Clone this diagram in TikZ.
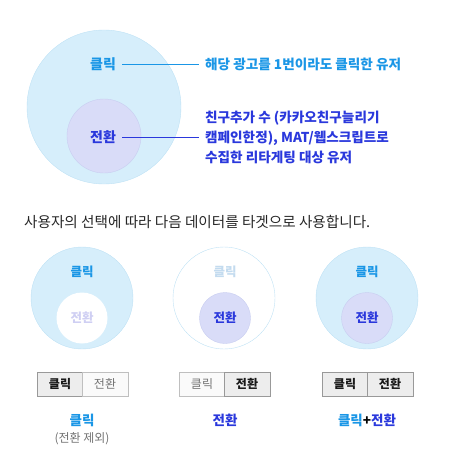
\documentclass[tikz,border=0pt]{standalone}
\usepackage{fontspec}
\setmainfont{Noto Sans CJK KR}
\definecolor{clickblue}{HTML}{1A96E6}
\definecolor{convblue}{HTML}{2A38DC}
\definecolor{outerfill}{HTML}{D6EEFB}
\definecolor{outerline}{HTML}{BFE2F5}
\definecolor{innerfill}{HTML}{D9DCF8}
\definecolor{innerline}{HTML}{C9CEF1}
\definecolor{offclick}{HTML}{C3DBEF}
\definecolor{offconv}{HTML}{CFCFF3}
\tikzset{
  outer/.style={circle, draw=outerline, fill=outerfill, inner sep=0pt},
  inner/.style={circle, draw=innerline, fill=innerfill, inner sep=0pt},
  biglbl/.style={font=\fontsize{14}{16}\selectfont\bfseries, inner sep=6pt},
  smalllbl/.style={font=\fontsize{12.5}{15}\selectfont\bfseries},
  btnon/.style={draw=black!40, fill=black!7, minimum width=46pt, minimum height=24pt,
    font=\fontsize{12}{14}\selectfont\bfseries, text=black!90},
  btnoff/.style={draw=black!25, fill=black!2, minimum width=46pt, minimum height=24pt,
    font=\fontsize{12}{14}\selectfont, text=black!55},
  caption/.style={font=\fontsize{13.5}{16}\selectfont\bfseries}
}
\begin{document}
\begin{tikzpicture}[x=1pt, y=-1pt]
  \useasboundingbox (0,0) rectangle (449,476);
  % top diagram
  \node[outer, minimum size=154pt] (bigclick) at (104,107) {};
  \node[inner, minimum size=74pt] (bigconv) at (104,136) {};
  \node[biglbl, text=clickblue] (clicklbl) at (103,64) {클릭};
  \node[biglbl, text=convblue] (convlbl) at (103,137) {전환};
  \node[anchor=west, inner sep=6pt, text=clickblue, font=\fontsize{13.6}{20}\selectfont\bfseries]
    (clickdesc) at (199,64) {해당 광고를 1번이라도 클릭한 유저};
  \node[anchor=west, inner sep=6pt, align=left, text=convblue, font=\fontsize{13.6}{20}\selectfont\bfseries]
    (convdesc) at (199,137) {친구추가 수 (카카오친구늘리기\\캠페인한정), MAT/웹스크립트로\\수집한 리타게팅 대상 유저};
  \draw[clickblue] (clicklbl.east) -- (clickdesc.west);
  \draw[convblue] (convlbl.east) -- (convdesc.west);

  \node[anchor=west, inner sep=0pt, font=\fontsize{14.6}{17}\selectfont, text=black!85]
    (guide) at (24,222) {사용자의 선택에 따라 다음 데이터를 타겟으로 사용합니다.};

  % three cases
  \node[outer, minimum size=102pt] (c1) at (82,298) {};
  \node[circle, fill=white, minimum size=51pt, inner sep=0pt] (c1in) at (82,318) {};
  \node[smalllbl, text=clickblue] (c1click) at (82,272) {클릭};
  \node[smalllbl, text=offconv] (c1conv) at (82,318) {전환};

  \node[circle, draw=outerline, fill=white, minimum size=102pt, inner sep=0pt] (c2) at (224,298) {};
  \node[inner, minimum size=51pt] (c2in) at (225,318) {};
  \node[smalllbl, text=offclick] (c2click) at (225,272) {클릭};
  \node[smalllbl, text=convblue] (c2conv) at (225,318) {전환};

  \node[outer, minimum size=102pt] (c3) at (367,298) {};
  \node[inner, minimum size=51pt] (c3in) at (367,318) {};
  \node[smalllbl, text=clickblue] (c3click) at (367,272) {클릭};
  \node[smalllbl, text=convblue] (c3conv) at (367,318) {전환};

  % buttons
  \node[btnon] (b1l) at (60,384) {클릭};
  \node[btnoff] (b1r) at (105,384) {전환};
  \node[btnoff] (b2l) at (202,384) {클릭};
  \node[btnon] (b2r) at (247,384) {전환};
  \node[btnon] (b3l) at (345,384) {클릭};
  \node[btnon] (b3r) at (390,384) {전환};

  % captions
  \node[caption, text=clickblue] (cap1) at (82,420) {클릭};
  \node[font=\fontsize{12}{14}\selectfont, text=black!55] (cap1sub) at (82,439) {(전환 제외)};
  \node[caption, text=convblue] (cap2) at (225,420) {전환};
  \node[caption] (cap3) at (367,420) {\textcolor{clickblue}{클릭}+\textcolor{convblue}{전환}};
\end{tikzpicture}
\end{document}
